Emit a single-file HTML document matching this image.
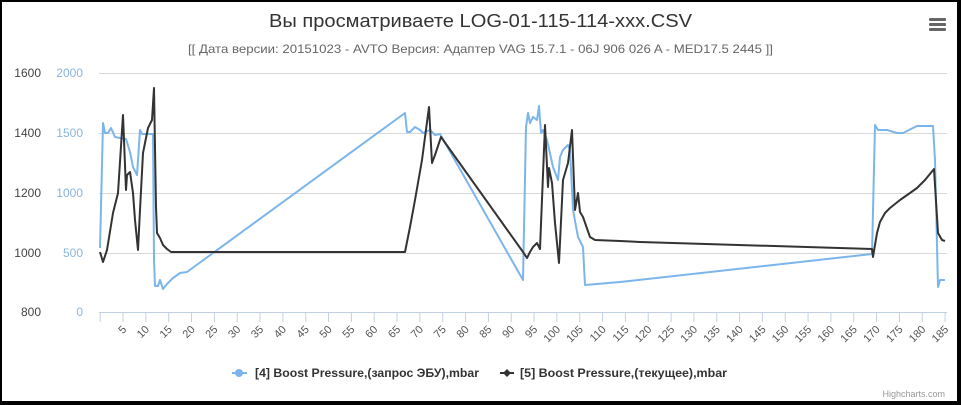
<!DOCTYPE html>
<html><head><meta charset="utf-8"><style>
html,body{margin:0;padding:0;background:#000;}
#w{position:absolute;left:2px;top:2px;width:955px;height:399px;background:#fff;overflow:hidden}
svg{position:absolute;left:-2px;top:-2px}
text{font-family:"Liberation Sans","DejaVu Sans",sans-serif}
</style></head><body><div id="w">
<svg width="961" height="405" viewBox="0 0 961 405" xmlns="http://www.w3.org/2000/svg">
<text x="269" y="27" font-size="18" fill="#333" textLength="423" lengthAdjust="spacingAndGlyphs">Вы просматриваете LOG-01-115-114-xxx.CSV</text>
<text x="188" y="53" font-size="12" fill="#666" textLength="585" lengthAdjust="spacingAndGlyphs">[[ Дата версии: 20151023 - AVTO Версия: Адаптер VAG 15.7.1 - 06J 906 026 A - MED17.5 2445 ]]</text>
<g fill="#666"><rect x="929" y="18" width="17" height="3" rx="1"/><rect x="929" y="23" width="17" height="3" rx="1"/><rect x="929" y="28" width="17" height="3" rx="1"/></g>
<g stroke="#d8d8d8" stroke-width="1">
<line x1="99" y1="73.5" x2="947" y2="73.5"/><line x1="99" y1="133.5" x2="947" y2="133.5"/><line x1="99" y1="193.5" x2="947" y2="193.5"/><line x1="99" y1="253.5" x2="947" y2="253.5"/>
</g>
<line x1="99" y1="312.5" x2="947" y2="312.5" stroke="#c0d0e0"/>
<g font-size="12" fill="#444" text-anchor="end"><text x="41" y="77">1600</text><text x="41" y="137">1400</text><text x="41" y="197">1200</text><text x="41" y="257">1000</text><text x="41" y="316">800</text></g>
<g font-size="12" fill="#8ab4de" text-anchor="end"><text x="83" y="77">2000</text><text x="83" y="137">1500</text><text x="83" y="197">1000</text><text x="83" y="257">500</text><text x="83" y="316">0</text></g>
<g id="ticks" stroke="#c0d0e0"></g>
<g id="tl" font-size="11" fill="#555"></g>
<polyline fill="none" stroke="#7cb5ec" stroke-width="2" stroke-linejoin="round" points="100,248 103,123 105,133 108,133 111,128 115,137 120,138 126,139 130,152 133,167 137,175 140,130 142,134 153,134 154,260 155,286 158,286 160,280 163,289 167,284 173,278 180,273 187,272 405,113 407,132 410,132 415,127 420,130 423,133 430,130 435,135 440,134 523,280 526,127 528,113 530,123 533,117 537,120 539,106 541,133 543,130 547,140 553,167 558,180 560,157 563,150 568,145 570,150 573,210 578,237 583,247 585,285 620,282 872,254 875,125 878,130 887,130 897,133 903,133 917,126 933,126 935,160 938,287 940,280 945,280"/>
<polyline fill="none" stroke="#333" stroke-width="2" stroke-linejoin="round" points="100,252 103,262 107,250 113,213 118,193 123,115 126,190 127,175 130,172 133,193 135,220 138,250 140,210 143,153 148,128 152,120 154,88 156,207 157,233 160,238 163,245 167,249 171,252 405,252 410,227 415,200 422,160 429,107 432,163 435,155 441,137 523,252 527,258 530,252 533,247 537,243 540,249 545,125 548,187 549,168 552,183 555,223 559,263 563,180 568,163 572,130 575,210 578,193 580,212 583,217 590,237 595,240 620,241 640,242 872,249 873,257 875,245 877,233 880,222 885,213 890,208 900,200 910,193 917,188 925,180 934,169 938,233 942,240 945,241"/>
<g font-size="12" font-weight="bold" fill="#333">
<line x1="232" y1="373" x2="247" y2="373" stroke="#7cb5ec" stroke-width="2"/><circle cx="239" cy="373" r="4" fill="#7cb5ec"/>
<text x="255" y="377" textLength="224" lengthAdjust="spacingAndGlyphs">[4] Boost Pressure,(запрос ЭБУ),mbar</text>
<line x1="500" y1="373" x2="514" y2="373" stroke="#333" stroke-width="2"/><path d="M507 369 L511 373 L507 377 L503 373Z" fill="#333"/>
<text x="520" y="377" textLength="207" lengthAdjust="spacingAndGlyphs">[5] Boost Pressure,(текущее),mbar</text>
</g>
<text x="945" y="397" text-anchor="end" font-size="9" fill="#999">Highcharts.com</text>
</svg>
<script>
var t=document.getElementById('ticks'),l=document.getElementById('tl'),ns='http://www.w3.org/2000/svg';
for(var i=0;i<=185;i+=5){var x=100.2+4.567*i;
var ln=document.createElementNS(ns,'line');ln.setAttribute('x1',x);ln.setAttribute('x2',x);ln.setAttribute('y1',312);ln.setAttribute('y2',322);t.appendChild(ln);
if(i>0){var tx=document.createElementNS(ns,'text');tx.setAttribute('text-anchor','end');tx.setAttribute('transform','translate('+(x+4)+',330) rotate(-45)');tx.textContent=i;l.appendChild(tx);}}
</script>
</div></body></html>
